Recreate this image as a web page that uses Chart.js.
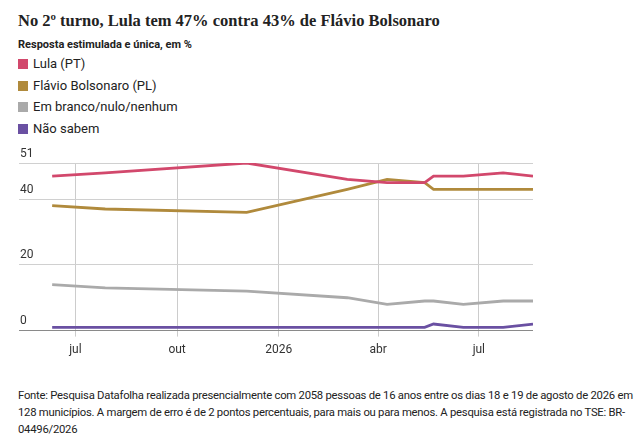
<!DOCTYPE html>
<html>
<head>
<meta charset="utf-8">
<script src="https://cdn.jsdelivr.net/npm/chart.js@4/dist/chart.umd.min.js"></script>
<style>
  body { margin: 0; background: #fff; font-family: Roboto, sans-serif; color: #222; }
  #title { position: absolute; left: 18px; top: 11px; font: bold 16.5px "Liberation Serif", serif; white-space: nowrap; }
  #sub { position: absolute; left: 18px; top: 38px; font: bold 11px Roboto, sans-serif; }
  #legend { position: absolute; left: 18px; top: 54px; font: 13px Roboto, sans-serif; }
  #legend div { height: 21.5px; line-height: 19px; white-space: nowrap; }
  #legend span { display: inline-block; width: 10px; height: 10px; margin-right: 5px; vertical-align: -1px; }
  #chart { position: absolute; left: 0; top: 140px; }
  #note { position: absolute; left: 18px; top: 387px; font: 11.3px Roboto, sans-serif; letter-spacing: -0.25px; line-height: 17px; white-space: nowrap; color: #222; }
</style>
</head>
<body>
<div id="title">No 2º turno, Lula tem 47% contra 43% de Flávio Bolsonaro</div>
<div id="sub">Resposta estimulada e única, em %</div>
<div id="legend"></div>
<canvas id="chart" width="642" height="225"></canvas>
<div id="note">Fonte: Pesquisa Datafolha realizada presencialmente com 2058 pessoas de 16 anos entre os dias 18 e 19 de agosto de 2026 em<br>128 municípios. A margem de erro é de 2 pontos percentuais, para mais ou para menos. A pesquisa está registrada no TSE: BR-<br>04496/2026</div>
<script>
// poll dates and results (%)
var dates = ['2025-06-10', '2025-07-28', '2025-12-03', '2026-03-04', '2026-04-09', '2026-05-13', '2026-05-21', '2026-06-17', '2026-07-23', '2026-08-19'];
var lula = [47, 48, 51, 46, 45, 45, 47, 47, 48, 47];
var flavio = [38, 37, 36, 43, 46, 45, 43, 43, 43, 43];
var branco = [14, 13, 12, 10, 8, 9, 9, 8, 9, 9];
var naoSabem = [1, 1, 1, 1, 1, 1, 2, 1, 1, 2];

var seriesNames = ['Lula (PT)', 'Flávio Bolsonaro (PL)', 'Em branco/nulo/nenhum', 'Não sabem'];
var seriesColors = ['#d2486c', '#b08a3c', '#aaaaaa', '#6a50a2'];

var tickDates = ['2025-07-01', '2025-10-01', '2026-01-01', '2026-04-01', '2026-07-01'];
var tickLabels = ['jul', 'out', '2026', 'abr', 'jul'];
var yTicks = [0, 20, 40, 51];
var xMin = '2025-05-11', xMax = '2026-08-19';

function toDay(s) {
  var p = s.split('-');
  return Date.UTC(+p[0], +p[1] - 1, +p[2]) / 86400000;
}

var legend = document.getElementById('legend');
seriesNames.forEach(function (n, i) {
  var d = document.createElement('div');
  d.innerHTML = '<span style="background:' + seriesColors[i] + '"></span>' + n;
  legend.appendChild(d);
});

var allValues = [lula, flavio, branco, naoSabem];
var datasets = allValues.map(function (vals, i) {
  return {
    label: seriesNames[i],
    data: vals.map(function (v, j) { return { x: toDay(dates[j]), y: v }; }),
    borderColor: seriesColors[i],
    backgroundColor: seriesColors[i],
    borderWidth: 2.8,
    pointRadius: 0,
    tension: 0,
    fill: false
  };
});

new Chart(document.getElementById('chart'), {
  type: 'line',
  data: { datasets: datasets },
  options: {
    responsive: false,
    animation: false,
    layout: { padding: { left: 17, right: 109, top: 23, bottom: 2 } },
    plugins: { legend: { display: false }, tooltip: { enabled: false } },
    scales: {
      x: {
        type: 'linear',
        min: toDay(xMin),
        max: toDay(xMax),
        afterBuildTicks: function (s) {
          s.ticks = tickDates.map(function (d) { return { value: toDay(d) }; });
        },
        border: { display: false },
        grid: { color: '#cccccc', tickLength: 6, lineWidth: 1 },
        ticks: {
          autoSkip: false, maxRotation: 0, padding: 6,
          color: '#333', font: { family: 'Roboto', size: 12 },
          callback: function (v, i) { return tickLabels[i]; }
        }
      },
      y: {
        min: 0,
        max: 51,
        afterBuildTicks: function (s) {
          s.ticks = yTicks.map(function (v) { return { value: v }; });
        },
        border: { display: false },
        grid: {
          drawTicks: false,
          color: function (c) { return c.tick && c.tick.value === 0 ? '#8a8a8a' : '#d0d0d0'; }
        },
        ticks: {
          mirror: true, padding: 1, labelOffset: -9.5,
          color: '#333', font: { family: 'Roboto', size: 12 }
        }
      }
    }
  }
});
</script>
</body>
</html>
